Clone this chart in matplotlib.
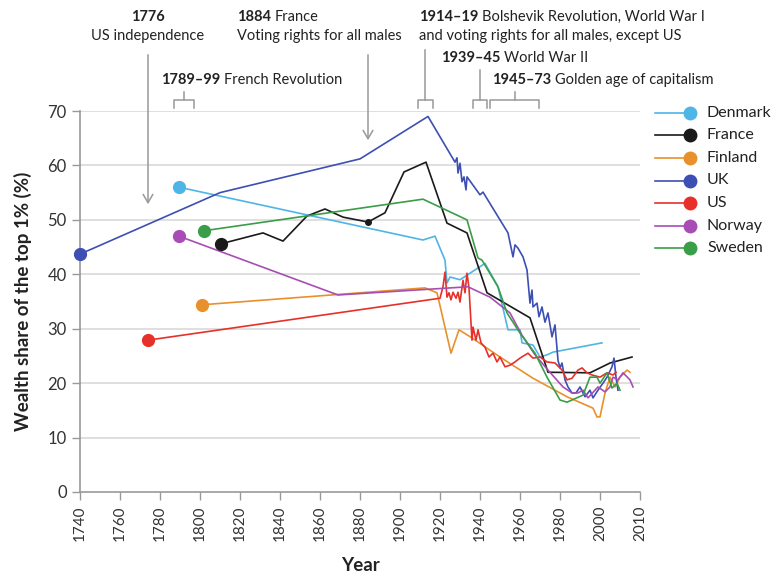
import matplotlib
matplotlib.use("Agg")
import matplotlib.pyplot as plt
from matplotlib.lines import Line2D

plt.rcParams["font.family"] = ["Lato", "DejaVu Sans"]

W, H = 776, 575

# ---- data (years, wealth share of top 1 %) ----
denmark_years = [1789.5, 1911.5, 1917.5, 1922.5, 1923.5, 1925, 1930, 1935, 1942.5, 1949,
                 1954, 1960, 1961, 1966.5, 1970, 1973.5, 1976.5, 2001]
denmark_vals = [56.0, 46.3, 47.0, 42.6, 38.4, 39.5, 39.0, 40.2, 42.0, 37.7,
                29.8, 29.8, 27.4, 27.0, 24.8, 25.2, 25.7, 27.4]

france_years = [1810.5, 1831.5, 1841.5, 1853.5, 1862.5, 1871.5, 1884, 1892.5, 1902, 1913,
                1923.5, 1933.5, 1943.5, 1965, 1974, 1995, 2005, 2016]
france_vals = [45.6, 47.6, 46.1, 50.7, 52.0, 50.5, 49.6, 51.3, 58.8, 60.6,
               49.4, 47.6, 36.6, 32.0, 22.0, 21.9, 23.7, 24.8]

finland_years = [1801, 1912.5, 1918.5, 1925.5, 1929.5, 1936, 1950, 1966.5, 1983.5, 1996.5,
                 1998.5, 2000, 2002.5, 2005, 2007.5, 2010, 2013.5, 2015]
finland_vals = [34.4, 37.5, 36.6, 25.5, 29.8, 28.3, 24.8, 20.9, 17.5, 15.4,
                13.8, 13.8, 18.2, 21.1, 19.3, 21.1, 22.4, 22.0]

uk_years = [1740, 1810, 1880, 1914, 1927.5, 1928.5, 1929, 1930, 1931, 1932, 1933, 1933.5,
            1940, 1941.5, 1954, 1956.5, 1957.5, 1959, 1961.5, 1963.5, 1965, 1966, 1966.5,
            1968.5, 1969.5, 1971, 1972.5, 1974, 1976, 1977.5, 1979, 1980, 1981, 1982.5,
            1984, 1986, 1988, 1990, 1992.5, 1995, 1996.5, 1999, 2001.5, 2003.5, 2006,
            2007, 2008, 2009]
uk_vals = [43.7, 55.0, 61.2, 69.0, 60.6, 61.4, 58.6, 60.4, 57.0, 57.9, 55.5, 57.9,
           54.6, 55.1, 47.6, 43.2, 45.4, 44.8, 43.2, 40.8, 34.7, 37.1, 34.0,
           34.7, 32.2, 34.0, 31.2, 32.9, 28.5, 30.7, 24.2, 22.8, 23.7, 20.6,
           19.3, 18.2, 18.2, 19.3, 17.5, 18.7, 17.3, 18.7, 20.0, 21.1, 23.0,
           24.6, 21.1, 18.7]

us_years = [1774, 1920, 1921.5, 1922.5, 1923.5, 1924.5, 1925.5, 1926.5, 1928, 1929, 1930,
            1931.5, 1932.5, 1933.5, 1934.5, 1936, 1936.5, 1938, 1939, 1940.5, 1942.5,
            1944.5, 1946.5, 1948.5, 1950, 1952.5, 1955, 1957.5, 1960, 1964, 1966.5, 1970,
            1973.5, 1977.5, 1981, 1983.5, 1986, 1989, 1991, 1993.5, 1996, 2000, 2003.5,
            2006.5, 2008]
us_vals = [27.9, 35.6, 37.7, 40.4, 35.8, 36.6, 35.3, 36.7, 35.6, 36.7, 34.9,
           38.9, 36.6, 40.2, 37.5, 27.9, 30.3, 27.9, 29.8, 27.4, 26.6,
           24.8, 25.5, 23.9, 24.8, 23.0, 23.3, 23.9, 24.6, 25.5, 24.6, 24.8,
           23.9, 23.7, 22.4, 20.6, 20.9, 22.4, 22.8, 21.9, 21.5, 21.1, 21.9,
           21.5, 22.0]

norway_years = [1789.5, 1869, 1912, 1934, 1945, 1955, 1961, 1967.5, 1974, 1981.5, 1986,
                1989, 1991.5, 1994, 1996.5, 1999, 2002.5, 2005, 2006.5, 2009, 2011.5,
                2015, 2016.5]
norway_vals = [47.0, 36.2, 37.2, 37.7, 35.8, 32.9, 28.8, 25.2, 22.4, 19.3, 18.2,
               18.2, 18.7, 17.3, 18.3, 19.3, 18.4, 19.3, 21.1, 20.6, 21.9,
               20.6, 19.3]

sweden_years = [1802, 1911.5, 1933.5, 1939, 1941, 1949, 1953.5, 1960, 1967.5, 1973.5,
                1980, 1983.5, 1991.5, 1995, 1998.5, 2000, 2003.5, 2006, 2008.5, 2010]
sweden_vals = [48.0, 53.8, 50.0, 43.0, 42.6, 37.7, 32.9, 29.2, 25.5, 21.1,
               16.9, 16.5, 17.8, 21.1, 21.1, 20.0, 21.9, 19.1, 20.0, 18.7]

series = [
    ("Denmark", denmark_years, denmark_vals, "#4fb5e6"),
    ("France", france_years, france_vals, "#1a1a1a"),
    ("Finland", finland_years, finland_vals, "#e8912c"),
    ("UK", uk_years, uk_vals, "#3d4fb3"),
    ("US", us_years, us_vals, "#e8302a"),
    ("Norway", norway_years, norway_vals, "#a84db5"),
    ("Sweden", sweden_years, sweden_vals, "#3a9e48"),
]

tick_pos = list(range(1740, 2021, 20))
tick_labels = [str(t) for t in range(1740, 2001, 20)] + ["2010"]

GRAY = "#999999"
TXT = "#222222"


def fx(x):
    return x / W


def fy(y):
    return 1 - y / H


fig = plt.figure(figsize=(W / 100, H / 100), dpi=100)
ax = fig.add_axes([fx(80), 83 / H, 560 / W, 381 / H])

for nombre, xs, ys, color in series:
    ax.plot(xs, ys, color=color, lw=1.2, zorder=3)
    ax.plot(xs[0], ys[0], "o", color=color, ms=8.5, zorder=4, clip_on=False)

# small marker on France 1884
ax.plot(france_years[6], france_vals[6], "o", color="#1a1a1a", ms=4, zorder=4)

ax.set_xlim(1740, 2020)
ax.set_ylim(0, 70)
ax.set_yticks(range(0, 71, 10))
ax.set_xticks(tick_pos)
ax.set_xticklabels(tick_labels, rotation=90, fontsize=11, color="#333333")
ax.tick_params(axis="y", labelsize=12, colors="#333333", length=6, width=1, color=GRAY)
ax.tick_params(axis="x", length=6, width=1, color=GRAY)
for v in range(10, 71, 10):
    ax.axhline(v, color="#d9d9d9", lw=1.2, zorder=1)
for s in ["top", "right"]:
    ax.spines[s].set_visible(False)
for s in ["left", "bottom"]:
    ax.spines[s].set_color(GRAY)
    ax.spines[s].set_linewidth(1.2)

ax.set_xlabel("Year", fontsize=13.5, fontweight="bold", color=TXT, labelpad=12)
ax.set_ylabel("Wealth share of the top 1% (%)", fontsize=13.5, fontweight="bold",
              color=TXT, labelpad=11)

# ---- annotations ----
fig.canvas.draw()
renderer = fig.canvas.get_renderer()
FS = 10.5


def bold_plain(x, y, bold, plain):
    t = fig.text(fx(x), fy(y), bold, fontsize=FS, fontweight="bold", color=TXT,
                 va="center", ha="left")
    bb = t.get_window_extent(renderer)
    fig.text(bb.x1 / W + 4 / W, fy(y), plain, fontsize=FS, color=TXT, va="center", ha="left")


fig.text(fx(148), fy(17), "1776", fontsize=FS, fontweight="bold", color=TXT, ha="center", va="center")
fig.text(fx(148), fy(36), "US independence", fontsize=FS, color=TXT, ha="center", va="center")
bold_plain(237, 17, "1884", "France")
fig.text(fx(237), fy(36), "Voting rights for all males", fontsize=FS, color=TXT, va="center")
bold_plain(419, 17, "1914–19", "Bolshevik Revolution, World War I")
fig.text(fx(419), fy(36), "and voting rights for all males, except US", fontsize=FS, color=TXT, va="center")
bold_plain(441, 58, "1939–45", "World War II")
bold_plain(161, 80, "1789–99", "French Revolution")
bold_plain(492, 80, "1945–73", "Golden age of capitalism")


def val(py):
    return (492 - py) / (381 / 70)


def yr(px):
    return 1740 + (px - 80) / 2


# arrows
for px, tip in [(148, 207), (368, 143)]:
    ax.annotate("", xy=(yr(px), val(tip)), xytext=(yr(px), val(52)),
                arrowprops=dict(arrowstyle="->,head_length=0.6,head_width=0.35",
                                color=GRAY, lw=1.1),
                annotation_clip=False)

# brackets: left, right, stem x, stem top
brackets = [(174, 194, 184, 92), (418, 433, 425, 50), (473, 487, 480, 70), (490, 539, 515, 92)]
for x0, x1, xs, top in brackets:
    ax.plot([yr(x0), yr(x0), yr(x1), yr(x1)], [val(108), val(100), val(100), val(108)],
            color=GRAY, lw=1.1, clip_on=False)
    ax.plot([yr(xs), yr(xs)], [val(100), val(top)], color=GRAY, lw=1.1, clip_on=False)

# ---- legend ----
for i, (nombre, xs, ys, color) in enumerate(series):
    py = 112.7 + i * 22.6
    fig.add_artist(Line2D([fx(655), fx(690)], [fy(py), fy(py)], color=color, lw=1.2,
                          transform=fig.transFigure))
    fig.add_artist(Line2D([fx(690)], [fy(py)], marker="o", ms=9, color=color,
                          transform=fig.transFigure))
    fig.text(fx(707), fy(py), nombre, fontsize=11.5, color=TXT, va="center", ha="left")

fig.savefig("out.png", dpi=100)
